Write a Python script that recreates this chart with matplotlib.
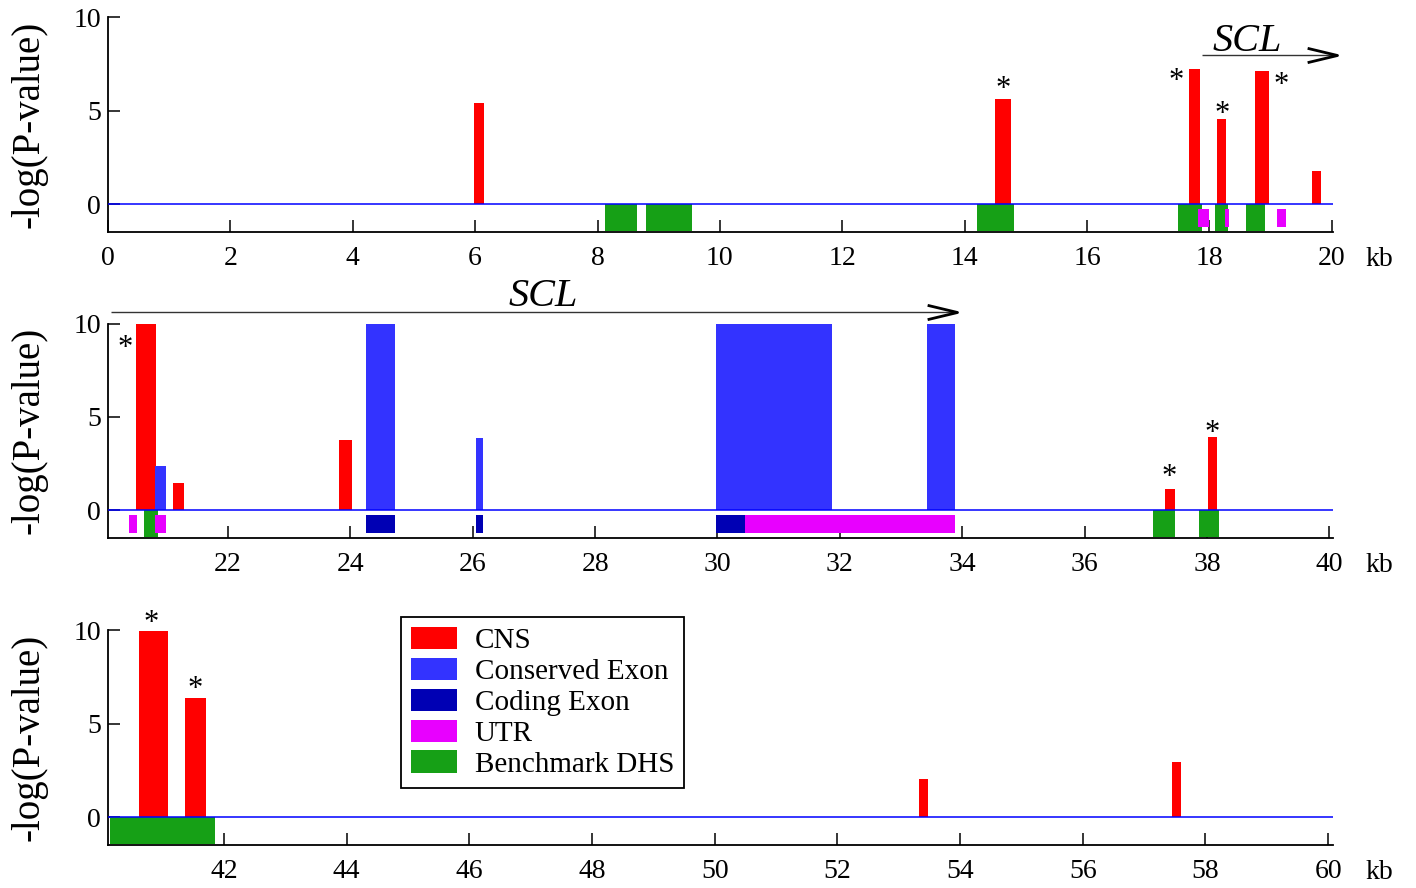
import matplotlib
matplotlib.use("Agg")
import matplotlib.pyplot as plt
from matplotlib.patches import Patch
from matplotlib.path import Path

plt.rcParams['font.family'] = ['Liberation Serif', 'DejaVu Serif']

# ---------------- data ----------------
# Panel 1 (0-20 kb)
cns1_start = [5.98, 14.50, 17.67, 18.13, 18.74, 19.68]
cns1_end = [6.14, 14.75, 17.84, 18.27, 18.97, 19.82]
cns1_h = [5.43, 5.63, 7.24, 4.55, 7.13, 1.77]
dhs1_start = [8.13, 8.79, 14.20, 17.48, 18.09, 18.59]
dhs1_end = [8.64, 9.55, 14.81, 17.88, 18.30, 18.91]
utr1_start = [17.82, 18.26, 19.11]
utr1_end = [18.00, 18.32, 19.26]
star1_x = [14.63, 17.45, 18.21, 19.18]
star1_y = [6.58, 6.99, 5.23, 6.76]

# Panel 2 (20-40 kb)
cns2_start = [20.50, 21.11, 23.82, 37.32, 38.01]
cns2_end = [20.82, 21.29, 24.03, 37.48, 38.16]
cns2_h = [10.0, 1.45, 3.73, 1.11, 3.93]
cex2_start = [20.81, 24.26, 26.05, 29.98, 33.42]
cex2_end = [20.98, 24.73, 26.17, 31.87, 33.88]
cex2_h = [2.36, 10.0, 3.86, 10.0, 10.0]
cod2_start = [24.26, 26.05, 29.97]
cod2_end = [24.73, 26.17, 30.45]
utr2_start = [20.38, 20.80, 30.45]
utr2_end = [20.52, 20.98, 33.88]
dhs2_start = [20.63, 37.12, 37.87]
dhs2_end = [20.86, 37.47, 38.20]
star2_x = [20.32, 37.38, 38.09]
star2_y = [9.10, 2.14, 4.52]

# Panel 3 (40-60 kb)
cns3_start = [40.61, 41.36, 53.33, 57.46]
cns3_end = [41.08, 41.71, 53.48, 57.60]
cns3_h = [10.0, 6.40, 2.02, 2.97]
dhs3_start = [40.15]
dhs3_end = [41.85]
star3_x = [40.82, 41.53]
star3_y = [10.80, 7.23]

# gene annotation (SCL)
scl1 = dict(x0=17.88, x1=20.08, y=8.01, tx=18.61, ty=8.23)
scl2 = dict(x0=20.09, x1=33.91, y=10.59, tx=27.15, ty=10.93)

xlims = [(0.0, 20.02), (20.04, 40.06), (40.11, 60.08)]
xticks = [list(range(0, 21, 2)), list(range(22, 41, 2)), list(range(42, 61, 2))]
yticks = [0, 5, 10]
legend_labels = ['CNS', 'Conserved Exon', 'Coding Exon', 'UTR', 'Benchmark DHS']

C_CNS = '#ff0000'
C_CEX = '#3333ff'
C_COD = '#0000b4'
C_UTR = '#e800ff'
C_DHS = '#16a016'

W, H = 1416, 888
fig = plt.figure(figsize=(W / 100, H / 100), dpi=100)

ax_left = 108 / W
ax_w = 1225 / W
bottoms_px = [232, 538, 845]
ax_h = 214.5 / H

arrow_marker = Path([(-30, 7.2), (0, 0), (-30, -7.2)],
                    [Path.MOVETO, Path.LINETO, Path.LINETO])


def boxes(ax, starts, ends, bottom, height, color, z=2):
    widths = [e - s for s, e in zip(starts, ends)]
    ax.bar(starts, height, width=widths, bottom=bottom, align='edge',
           color=color, edgecolor='none', linewidth=0, zorder=z)


def stars(ax, xs, ys):
    for x, y in zip(xs, ys):
        ax.annotate('*', xy=(x, y), xytext=(0, -11), textcoords='offset points',
                    ha='center', va='baseline', fontsize=22, annotation_clip=False)


def scl(ax, d):
    ax.plot([d['x0'], d['x1']], [d['y'], d['y']], color='#333333', lw=1.0,
            clip_on=False, solid_capstyle='butt')
    ax.plot([d['x1']], [d['y']], marker=arrow_marker, markersize=43,
            mfc='none', mec='black', mew=2.0, linestyle='none', clip_on=False)
    ax.text(d['tx'], d['ty'], 'SCL', fontstyle='italic', fontsize=29,
            ha='center', va='baseline', clip_on=False)


axes = []
for i in range(3):
    b = 1 - bottoms_px[i] / H
    ax = fig.add_axes([ax_left, b, ax_w, ax_h])
    axes.append(ax)
    ax.set_xlim(*xlims[i])
    ax.set_ylim(-1.5, 10)
    for s in ['top', 'right']:
        ax.spines[s].set_visible(False)
    for s in ['left', 'bottom']:
        ax.spines[s].set_linewidth(1.3)
    ax.set_xticks(xticks[i])
    ax.set_yticks(yticks)
    ax.tick_params(axis='both', direction='in', length=8.5, width=1.1,
                   labelsize=20)
    ax.tick_params(axis='x', pad=10)
    ax.tick_params(axis='y', pad=5)
    ax.axhline(0, color='#0000ff', lw=1.1, zorder=3)
    fig.text(29 / W, b + ax_h / 2, '-log(P-value)', rotation=90,
             ha='center', va='center', fontsize=28)
    fig.text(1366 / W, 1 - (bottoms_px[i] + 34) / H, 'kb', ha='left',
             va='baseline', fontsize=20)

DHS_B, DHS_H = -1.45, 1.45
SUB_B, SUB_H = -1.22, 0.95

ax = axes[0]
boxes(ax, cns1_start, cns1_end, 0, cns1_h, C_CNS)
boxes(ax, dhs1_start, dhs1_end, DHS_B, DHS_H, C_DHS)
boxes(ax, utr1_start, utr1_end, SUB_B, SUB_H, C_UTR, z=2.5)
stars(ax, star1_x, star1_y)
scl(ax, scl1)

ax = axes[1]
boxes(ax, cns2_start, cns2_end, 0, cns2_h, C_CNS)
boxes(ax, cex2_start, cex2_end, 0, cex2_h, C_CEX)
boxes(ax, dhs2_start, dhs2_end, DHS_B, DHS_H, C_DHS)
boxes(ax, utr2_start, utr2_end, SUB_B, SUB_H, C_UTR, z=2.5)
boxes(ax, cod2_start, cod2_end, SUB_B, SUB_H, C_COD, z=2.6)
stars(ax, star2_x, star2_y)
scl(ax, scl2)

ax = axes[2]
boxes(ax, cns3_start, cns3_end, 0, cns3_h, C_CNS)
boxes(ax, dhs3_start, dhs3_end, DHS_B, DHS_H, C_DHS)
stars(ax, star3_x, star3_y)

handles = [Patch(facecolor=c, edgecolor='none') for c in
           [C_CNS, C_CEX, C_COD, C_UTR, C_DHS]]
leg = ax.legend(handles, legend_labels, loc='upper left',
                bbox_to_anchor=(401 / W, 1 - 617 / H),
                bbox_transform=fig.transFigure, borderaxespad=0,
                fontsize=21, handlelength=1.6, handleheight=0.82,
                handletextpad=0.6, labelspacing=0.12, borderpad=0.33,
                fancybox=False, framealpha=1, edgecolor='black')
leg.get_frame().set_linewidth(1.3)

fig.savefig('out.png', dpi=100)
